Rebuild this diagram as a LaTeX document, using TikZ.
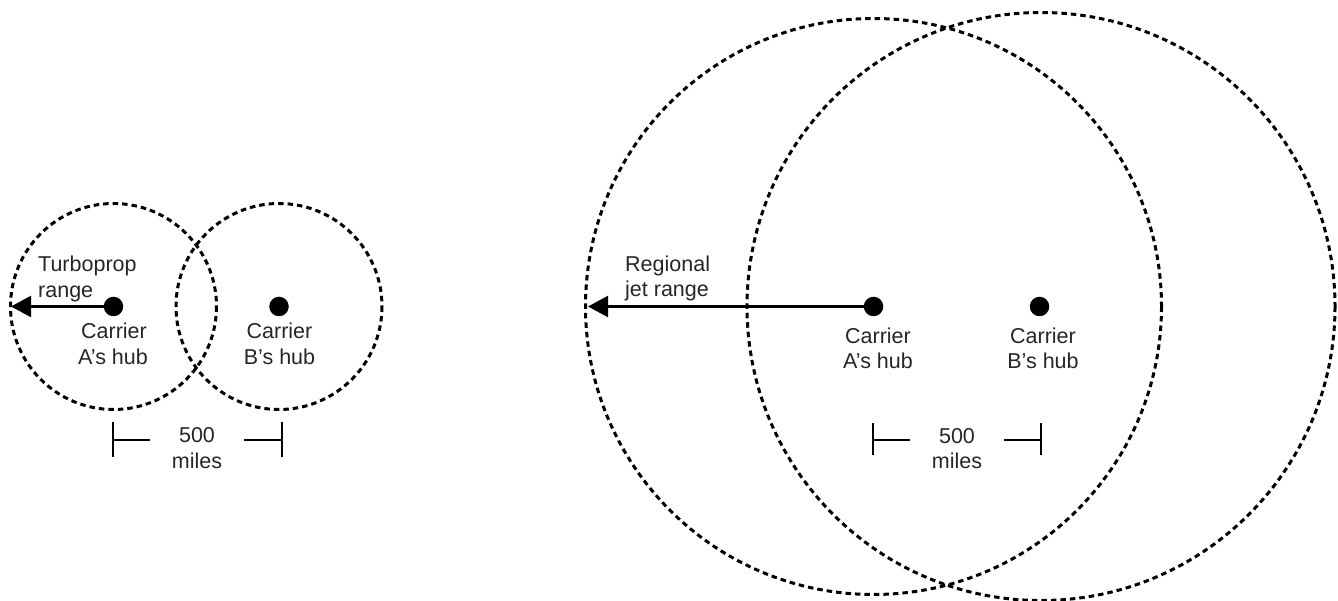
\documentclass[tikz,border=0pt]{standalone}
\usepackage{fontspec}
\setmainfont{Liberation Sans}
\usetikzlibrary{arrows.meta}
\begin{document}
\begin{tikzpicture}[x=1pt,y=-1pt,
  rangecirc/.style={draw=black,line width=3pt,dash pattern=on 5.5pt off 4pt},
  hubdot/.style={circle,fill=black,draw=none,minimum size=19.5pt,inner sep=0pt},
  rangearrow/.style={draw=black,line width=2.2pt,-{Triangle[length=20pt,width=21pt]}},
  dimline/.style={draw=black,line width=1.8pt},
  lbl/.style={font=\fontsize{21.5}{25}\selectfont,inner sep=0pt,anchor=base,text=black!85},
  lbll/.style={lbl,anchor=base west}]
\useasboundingbox (0,0) rectangle (1338,601);
% ---- left: turboprop ----
\node[hubdot] (sA) at (113.5,306.5) {};
\node[hubdot] (sB) at (279,306.5) {};
\draw[rangecirc] (sA.center) circle[radius=103];
\draw[rangecirc] (sB.center) circle[radius=103];
\coordinate (sTip) at (11,306.5);
\draw[rangearrow] (sA.center) -- (sTip);
\node[lbll] (sR1) at (38,272) {Turboprop};
\node[lbll] (sR2) at (38,298) {range};
\node[lbl] (sA1) at (114,339) {Carrier};
\node[lbl] (sA2) at (113,364) {A’s hub};
\node[lbl] (sB1) at (279.5,339) {Carrier};
\node[lbl] (sB2) at (279.5,364) {B’s hub};
\node[lbl] (sD1) at (197,442) {500};
\node[lbl] (sD2) at (197,468) {miles};
\coordinate (sLt) at (113,422); \coordinate (sLb) at (113,457);
\coordinate (sLm) at (113,440); \coordinate (sLe) at (150,440);
\coordinate (sRt) at (282,422); \coordinate (sRb) at (282,457);
\coordinate (sRm) at (282,440); \coordinate (sRe) at (244,440);
\draw[dimline] (sLt) -- (sLb);
\draw[dimline] (sLm) -- (sLe);
\draw[dimline] (sRt) -- (sRb);
\draw[dimline] (sRm) -- (sRe);
% ---- right: regional jet ----
\node[hubdot] (bA) at (873.5,306.5) {};
\node[hubdot] (bB) at (1039.5,306.5) {};
\draw[rangecirc] (bA.center) circle[radius=288];
\draw[rangecirc] (1041,306.5) circle[radius=294];
\coordinate (bTip) at (588,306.5);
\draw[rangearrow] (bA.center) -- (bTip);
\node[lbll] (bR1) at (625,272) {Regional};
\node[lbll] (bR2) at (625,297) {jet range};
\node[lbl] (bA1) at (878,344) {Carrier};
\node[lbl] (bA2) at (878,369) {A’s hub};
\node[lbl] (bB1) at (1043,344) {Carrier};
\node[lbl] (bB2) at (1043,369) {B’s hub};
\node[lbl] (bD1) at (957,443) {500};
\node[lbl] (bD2) at (957,468) {miles};
\coordinate (bLt) at (873,423); \coordinate (bLb) at (873,455);
\coordinate (bLm) at (873,440); \coordinate (bLe) at (910,440);
\coordinate (bRt) at (1041,423); \coordinate (bRb) at (1041,455);
\coordinate (bRm) at (1041,440); \coordinate (bRe) at (1004,440);
\draw[dimline] (bLt) -- (bLb);
\draw[dimline] (bLm) -- (bLe);
\draw[dimline] (bRt) -- (bRb);
\draw[dimline] (bRm) -- (bRe);
\end{tikzpicture}
\end{document}
